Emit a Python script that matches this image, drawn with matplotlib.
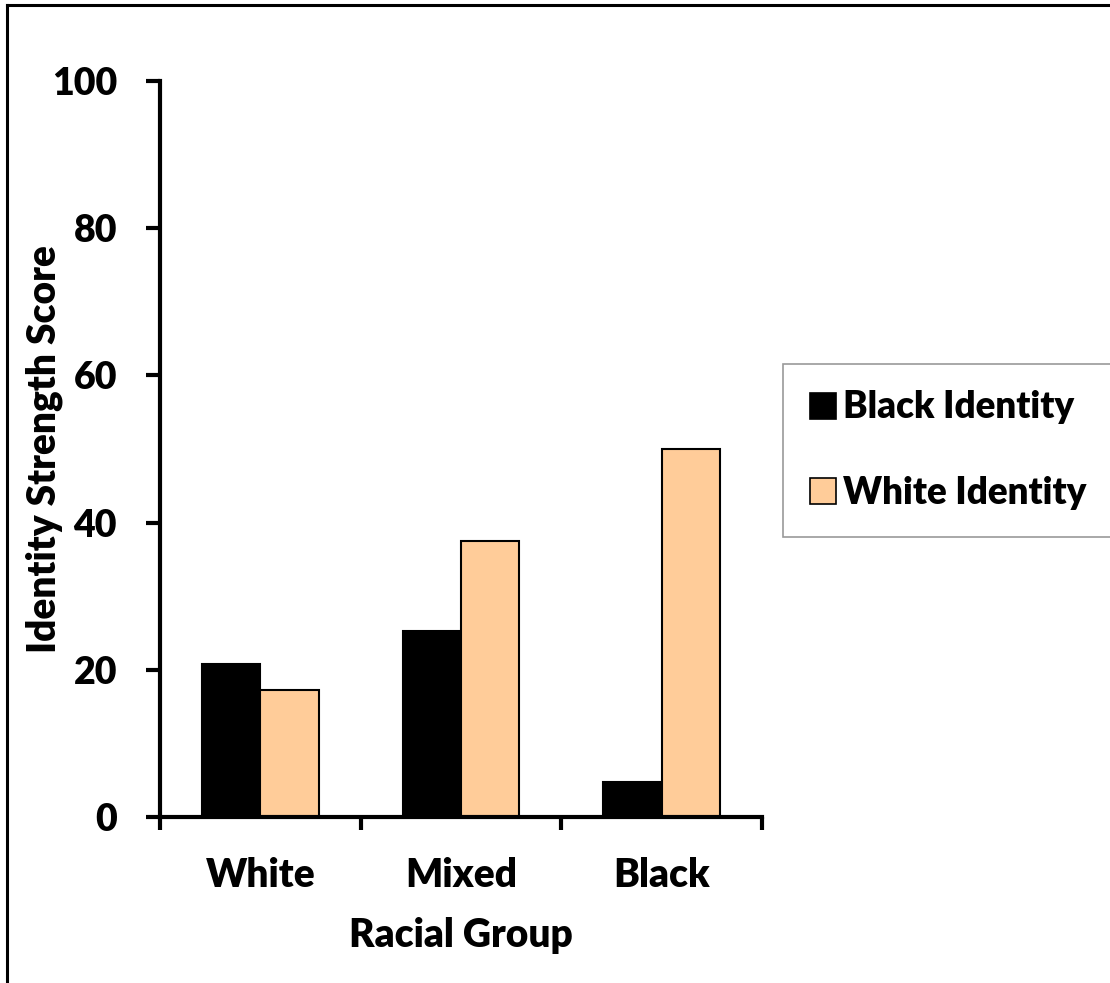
import matplotlib
matplotlib.use("Agg")
import matplotlib.pyplot as plt
from matplotlib.lines import Line2D
from matplotlib.patches import Patch
import numpy as np

groups = ["White", "Mixed", "Black"]
series_names = ["Black Identity", "White Identity"]
black_identity = [20.8, 25.3, 4.8]
white_identity = [17.3, 37.5, 50.0]
yticks = [0, 20, 40, 60, 80, 100]

colors = ["#000000", "#FFCC99"]

plt.rcParams["font.family"] = ["Lato", "DejaVu Sans"]
FW = "heavy"
FS = 28

W, H = 1110, 983
fig = plt.figure(figsize=(W / 100, H / 100), dpi=100)
ax = fig.add_axes([160 / W, 1 - 817 / H, (762 - 160) / W, (817 - 81) / H])

x = np.arange(len(groups))
bw = 0.29
ax.bar(x - bw / 2, black_identity, bw, color=colors[0], edgecolor="black", linewidth=1.5)
ax.bar(x + bw / 2, white_identity, bw, color=colors[1], edgecolor="black", linewidth=1.5)

ax.set_xlim(-0.5, len(groups) - 0.5)
ax.set_ylim(0, 100)
ax.set_yticks(yticks)
ax.set_yticklabels([str(v) for v in yticks], fontsize=27, fontweight=FW)
ax.set_xticks(np.arange(len(groups) + 1) - 0.5, minor=False)
ax.set_xticklabels([])
ax.set_xticks(x, minor=True)
ax.set_xticklabels(groups, minor=True, fontsize=FS, fontweight=FW)
ax.tick_params(axis="x", which="minor", length=0, pad=29)
ax.tick_params(axis="x", which="major", direction="out", length=9, width=3)
ax.tick_params(axis="y", direction="out", length=10, width=3, pad=21)

for side in ["top", "right"]:
    ax.spines[side].set_visible(False)
for side in ["left", "bottom"]:
    ax.spines[side].set_linewidth(3)

ax.set_xlabel("Racial Group", fontsize=FS, fontweight=FW, labelpad=16)
ax.set_ylabel("Identity Strength Score", fontsize=FS, fontweight=FW, labelpad=-8)

handles = [Patch(facecolor=colors[0], edgecolor="black", linewidth=1.2),
           Patch(facecolor=colors[1], edgecolor="black", linewidth=1.2)]
leg = fig.legend(handles, series_names, loc="upper left",
                 bbox_to_anchor=(783 / W, 1 - 364 / H),
                 prop={"size": 26.5, "weight": FW},
                 frameon=True, fancybox=False, edgecolor="#808080",
                 handlelength=0.72, handleheight=0.72, handletextpad=0.2,
                 labelspacing=1.4, borderpad=0.72, borderaxespad=0)
leg.get_frame().set_linewidth(1.2)

# outer chart border (left and top edges)
fig.add_artist(Line2D([7 / W, 7 / W], [0, 1 - 5 / H], transform=fig.transFigure,
                      color="black", linewidth=2.2))
fig.add_artist(Line2D([7 / W, 1], [1 - 5 / H, 1 - 5 / H], transform=fig.transFigure,
                      color="black", linewidth=2.2))

fig.savefig("out.png", dpi=100)
